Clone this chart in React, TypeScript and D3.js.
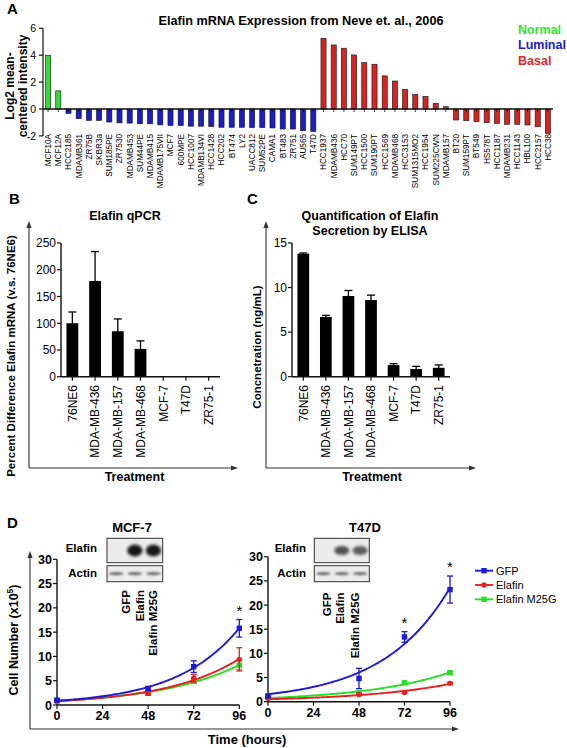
import React from 'react';
import * as d3 from 'd3';

const FONT = "'Liberation Sans', Arial, Helvetica, sans-serif";

// ---------- Panel A data ----------
const normalLines = ['MCF10A', 'MCF12A'];
const normalValues = [4.0, 1.35];
const luminalLines = ['HCC2185', 'MDAMB361', 'ZR75B', 'SKBR3a', 'SUM185PE', 'ZR7530', 'MDAMB453', 'SUM44PE', 'MDAMB415', 'MDAMB175VII', 'MCF7', '600MPE', 'HCC1007', 'MDAMB134VI', 'HCC1428', 'HCC202', 'BT474', 'LY2', 'UACC812', 'SUM52PE', 'CAMA1', 'BT483', 'ZR751', 'AU565', 'T47D'];
const luminalValues = [-0.33, -0.72, -0.85, -0.85, -0.97, -1.03, -1.05, -1.1, -1.1, -1.18, -1.23, -1.23, -1.28, -1.28, -1.31, -1.36, -1.36, -1.36, -1.38, -1.38, -1.41, -1.49, -1.49, -1.62, -1.67];
const basalLines = ['HCC1937', 'MDAMB436', 'HCC70', 'SUM149PT', 'HCC1500', 'SUM190PT', 'HCC1569', 'MDAMB468', 'HCC3153', 'SUM1315MO2', 'HCC1954', 'SUM225CWN', 'MDAMB157', 'BT20', 'SUM159PT', 'BT549', 'HS578T', 'HCC1187', 'MDAMB231', 'HCC1143', 'HBL100', 'HCC2157', 'HCC38'];
const basalValues = [5.26, 4.76, 4.52, 4.02, 3.45, 3.33, 2.46, 2.08, 1.46, 1.09, 0.94, 0.42, 0.17, -0.82, -0.87, -0.94, -1.02, -1.07, -1.14, -1.14, -1.19, -1.32, -1.81];
const groupNames = ['Normal', 'Luminal', 'Basal'];
const groupColors = ['#35dc35', '#1c1cc8', '#d92222'];
const legendColors = ['#2fe82f', '#1a1ad0', '#e02828'];
const aTicks = [-2, 0, 2, 4, 6];

// ---------- Panel B / C data ----------
const treatments = ['76NE6', 'MDA-MB-436', 'MDA-MB-157', 'MDA-MB-468', 'MCF-7', 'T47D', 'ZR75-1'];
const qpcrMean = [100, 179, 85, 52, 0, 0, 0];
const qpcrErr = [21, 55, 23, 15, 0, 0, 0];
const qpcrTicks = [0, 50, 100, 150, 200, 250];
const elisaMean = [13.8, 6.7, 9.05, 8.6, 1.3, 0.86, 1.0];
const elisaErr = [0.08, 0.18, 0.62, 0.55, 0.16, 0.3, 0.32];
const elisaTicks = [0, 5, 10, 15];

// ---------- Panel D data ----------
const hours = [0, 48, 72, 96];
const timeTicks = [0, 24, 48, 72, 96];
const cellTicks = [0, 5, 10, 15, 20, 25, 30];
const seriesNames = ['GFP', 'Elafin', 'Elafin M25G'];
const seriesColors = ['#1a1ad8', '#e82020', '#22e022'];
const mcf7GFP = [1.0, 3.4, 7.9, 15.8];
const mcf7GFPErr = [0.2, 0.4, 1.2, 1.8];
const mcf7Elafin = [0.8, 2.4, 5.5, 9.4];
const mcf7ElafinErr = [0.2, 0.4, 0.8, 2.4];
const mcf7M25G = [0.8, 2.5, 4.9, 8.2];
const mcf7M25GErr = [0.2, 0.3, 0.5, 0.9];
const mcf7Stars = [96];
const t47dGFP = [1.2, 4.8, 13.4, 23.2];
const t47dGFPErr = [0.2, 2.1, 1.1, 2.8];
const t47dElafin = [0.7, 1.5, 1.9, 3.8];
const t47dElafinErr = [0.1, 0.2, 0.2, 0.2];
const t47dM25G = [0.9, 1.8, 3.9, 6.0];
const t47dM25GErr = [0.1, 0.2, 0.3, 0.3];
const t47dStars = [72, 96];
const blotLanes = ['GFP', 'Elafin', 'Elafin M25G'];
const mcf7ElafinBand = [0, 1, 1];
const t47dElafinBand = [0, 0.8, 0.75];
const actinBand = [1, 1, 1];

function expFit(ts: number[], ys: number[]) {
  const lt = ys.map(Math.log);
  const mt = d3.mean(ts)!;
  const ml = d3.mean(lt)!;
  let sxy = 0, sxx = 0;
  ts.forEach((t, i) => { sxy += (t - mt) * (lt[i] - ml); sxx += (t - mt) ** 2; });
  let k = sxy / sxx;
  let a = Math.exp(ml - k * mt);
  for (let it = 0; it < 60; it++) {
    let j11 = 0, j12 = 0, j22 = 0, g1 = 0, g2 = 0;
    ts.forEach((t, i) => {
      const e = Math.exp(k * t);
      const r = ys[i] - a * e;
      const da = e, dk = a * t * e;
      j11 += da * da; j12 += da * dk; j22 += dk * dk; g1 += da * r; g2 += dk * r;
    });
    const det = j11 * j22 - j12 * j12;
    if (!det) break;
    const dA = (j22 * g1 - j12 * g2) / det;
    const dK = (j11 * g2 - j12 * g1) / det;
    a += dA; k += dK;
    if (Math.abs(dA) < 1e-10 && Math.abs(dK) < 1e-12) break;
  }
  return (t: number) => a * Math.exp(k * t);
}

const ArrowUp = ({ x, y }: { x: number; y: number }) => (
  <polygon points={`${x},${y} ${x - 2.6},${y + 7} ${x + 2.6},${y + 7}`} fill="#333" />
);
const ArrowRight = ({ x, y }: { x: number; y: number }) => (
  <polygon points={`${x},${y} ${x - 7},${y - 2.6} ${x - 7},${y + 2.6}`} fill="#333" />
);

function PanelA() {
  const names = [...normalLines, ...luminalLines, ...basalLines];
  const values = [...normalValues, ...luminalValues, ...basalValues];
  const groups = [...normalLines.map(() => 0), ...luminalLines.map(() => 1), ...basalLines.map(() => 2)];
  const x = d3.scaleBand<string>().domain(names).range([43, 553]).paddingInner(0.5).paddingOuter(0.25);
  const y = d3.scaleLinear().domain([-2, 6]).range([135.9, 28.3]);
  const y0 = y(0);
  return (
    <g>
      <text x={7} y={14} fontSize={15} fontWeight="bold">A</text>
      <text x={301} y={24.5} fontSize={12.7} fontWeight="bold" textAnchor="middle">Elafin mRNA Expression from Neve et. al., 2006</text>
      {groupNames.map((g, i) => (
        <text key={g} x={518} y={33.5 + i * 15.8} fontSize={12.5} fontWeight="bold" fill={legendColors[i]}>{g}</text>
      ))}
      <text transform={`translate(14,86) rotate(-90)`} fontSize={12} fontWeight="bold" textAnchor="middle">Log2 mean-</text>
      <text transform={`translate(27,86) rotate(-90)`} fontSize={12} fontWeight="bold" textAnchor="middle">centered intensity</text>
      <line x1={43} x2={43} y1={y(-2)} y2={y(6)} stroke="#111" strokeWidth={1.2} />
      {aTicks.map(t => (
        <g key={t}>
          <line x1={39} x2={43} y1={y(t)} y2={y(t)} stroke="#111" strokeWidth={1.2} />
          <text x={36} y={y(t)} dy="0.35em" fontSize={10.5} textAnchor="end">{t}</text>
        </g>
      ))}
      {names.map((n, i) => {
        const v = values[i];
        const top = Math.min(y(v), y0);
        return (
          <rect key={n} x={x(n)!} y={top} width={x.bandwidth()} height={Math.abs(y(v) - y0)}
            fill={groupColors[groups[i]]} stroke="#111" strokeWidth={0.6} />
        );
      })}
      <line x1={43} x2={553} y1={y0} y2={y0} stroke="#111" strokeWidth={1.3} />
      {names.map(n => (
        <line key={n} x1={x(n)! + x.bandwidth() / 2} x2={x(n)! + x.bandwidth() / 2} y1={y0} y2={y0 + 3} stroke="#111" strokeWidth={0.8} />
      ))}
      {names.map(n => (
        <text key={n} transform={`translate(${x(n)! + x.bandwidth() / 2},134) rotate(-90)`} fontSize={8.2} textAnchor="end" dy="0.35em">{n}</text>
      ))}
    </g>
  );
}

function BarPanel({ letter, letterX, title, titleX, frameX, frameRight, axisX, axisRight, max, ticks, mean, err, ylabel, ylabelX, ylabelY }: any) {
  const x = d3.scaleBand<string>().domain(treatments).range([axisX, axisRight]).paddingInner(0.48).paddingOuter(0.24);
  const y = d3.scaleLinear().domain([0, max]).range([376.7, 243]);
  const cx = (t: string) => x(t)! + x.bandwidth() / 2;
  return (
    <g>
      <text x={letterX} y={204} fontSize={15} fontWeight="bold">{letter}</text>
      {title.map((t: string, i: number) => (
        <text key={t} x={titleX} y={220 + i * 15} fontSize={12.5} fontWeight="bold" textAnchor="middle">{t}</text>
      ))}
      <line x1={frameX} x2={frameX} y1={468} y2={226} stroke="#333" strokeWidth={1.1} />
      <ArrowUp x={frameX} y={221} />
      <line x1={frameX} x2={frameRight - 4} y1={468} y2={468} stroke="#333" strokeWidth={1.1} />
      <ArrowRight x={frameRight} y={468} />
      <text transform={`translate(${ylabelX},${ylabelY}) rotate(-90)`} fontSize={11.5} fontWeight="bold" textAnchor="middle">{ylabel}</text>
      <text x={(frameX + frameRight) / 2 + 1} y={481} fontSize={12.5} fontWeight="bold" textAnchor="middle">Treatment</text>
      <line x1={axisX} x2={axisX} y1={y(0)} y2={y(max)} stroke="#111" strokeWidth={1.4} />
      {ticks.map((t: number) => (
        <g key={t}>
          <line x1={axisX - 4} x2={axisX} y1={y(t)} y2={y(t)} stroke="#111" strokeWidth={1.2} />
          <text x={axisX - 5} y={y(t)} dy="0.36em" fontSize={12} textAnchor="end">{t}</text>
        </g>
      ))}
      {treatments.map((t, i) => (
        <g key={t}>
          <rect x={x(t)!} y={y(mean[i])} width={x.bandwidth()} height={y(0) - y(mean[i])} fill="#000" />
          {err[i] > 0 && (
            <g stroke="#000" strokeWidth={1.3}>
              <line x1={cx(t)} x2={cx(t)} y1={y(mean[i] - err[i])} y2={y(mean[i] + err[i])} />
              <line x1={cx(t) - 4} x2={cx(t) + 4} y1={y(mean[i] + err[i])} y2={y(mean[i] + err[i])} />
            </g>
          )}
        </g>
      ))}
      <line x1={axisX} x2={axisRight} y1={y(0)} y2={y(0)} stroke="#111" strokeWidth={1.4} />
      {treatments.map(t => (
        <line key={t} x1={cx(t)} x2={cx(t)} y1={y(0)} y2={y(0) + 4} stroke="#111" strokeWidth={1.2} />
      ))}
      {treatments.map(t => (
        <text key={t} transform={`translate(${cx(t)},385) rotate(-90)`} fontSize={12} textAnchor="end" dy="0.36em">{t}</text>
      ))}
    </g>
  );
}

function Blot({ x0, x1, title, titleX, labelRight, laneLabelX, laneTop, elafin, elafinDark, elafinRy }: any) {
  const lanes = d3.scaleBand<string>().domain(blotLanes).range([x0, x1]);
  const lc = (l: string) => lanes(l)! + lanes.bandwidth() / 2;
  return (
    <g>
      <text x={titleX} y={531.5} fontSize={13} fontWeight="bold" textAnchor="middle">{title}</text>
      <text x={labelRight} y={552} fontSize={11.5} fontWeight="bold" textAnchor="end">Elafin</text>
      <text x={labelRight} y={577} fontSize={11.5} fontWeight="bold" textAnchor="end">Actin</text>
      <rect x={x0} y={538.3} width={x1 - x0} height={24.4} fill="#ececec" stroke="#333" strokeWidth={1} />
      <rect x={x0} y={565.7} width={x1 - x0} height={16} fill="#ececec" stroke="#333" strokeWidth={1} />
      {blotLanes.map((l, i) => elafin[i] > 0 && (
        <ellipse key={l} cx={lc(l)} cy={550.5} rx={7.6} ry={elafinRy} fill={elafinDark} opacity={elafin[i]} filter="url(#blur)" />
      ))}
      {blotLanes.map((l, i) => (
        <ellipse key={l} cx={lc(l)} cy={573.7} rx={7.2} ry={1.6} fill="#555" opacity={actinBand[i] * 0.85} filter="url(#blur1)" />
      ))}
      {blotLanes.map((l, i) => (
        <text key={l} transform={`translate(${laneLabelX[i]},${laneTop}) rotate(-90)`} fontSize={11.5} fontWeight="bold" textAnchor="end" dy="0.36em">{l}</text>
      ))}
    </g>
  );
}

function GrowthPanel({ xr, y0, y30, series, errs, stars, axisLabelRight }: any) {
  const x = d3.scaleLinear().domain([0, 96]).range(xr);
  const y = d3.scaleLinear().domain([0, 30]).range([y0, y30]);
  const order = [2, 1, 0];
  return (
    <g>
      <line x1={xr[0]} x2={xr[0]} y1={y(0)} y2={y(30)} stroke="#111" strokeWidth={1.4} />
      {cellTicks.map(t => (
        <g key={t}>
          <line x1={xr[0] - 4} x2={xr[0]} y1={y(t)} y2={y(t)} stroke="#111" strokeWidth={1.2} />
          <text x={axisLabelRight} y={y(t)} dy="0.36em" fontSize={12.5} fontWeight="bold" textAnchor="end">{t}</text>
        </g>
      ))}
      <line x1={xr[0]} x2={xr[1]} y1={y(0)} y2={y(0)} stroke="#111" strokeWidth={1.4} />
      {timeTicks.map(t => (
        <g key={t}>
          <line x1={x(t)} x2={x(t)} y1={y(0)} y2={y(0) + 4} stroke="#111" strokeWidth={1.2} />
          <text x={x(t)} y={y(0) + 15} fontSize={12.5} fontWeight="bold" textAnchor="middle">{t}</text>
        </g>
      ))}
      {order.map(si => {
        const f = expFit(hours, series[si]);
        const ts = d3.range(0, 96.01, 1);
        const path = d3.line<number>().x(t => x(t)).y(t => y(f(t))).curve(d3.curveBasis)(ts)!;
        const col = seriesColors[si];
        return (
          <g key={si}>
            <path d={path} fill="none" stroke={col} strokeWidth={1.9} />
            {hours.map((h, i) => {
              const m = series[si][i], e = errs[si][i];
              const px = x(h);
              return (
                <g key={h} stroke={col} strokeWidth={1.3}>
                  <line x1={px} x2={px} y1={y(m - e)} y2={y(m + e)} />
                  <line x1={px - 3} x2={px + 3} y1={y(m + e)} y2={y(m + e)} />
                  <line x1={px - 3} x2={px + 3} y1={y(m - e)} y2={y(m - e)} />
                  {si === 1
                    ? <circle cx={px} cy={y(m)} r={2.7} fill={col} stroke="none" />
                    : <rect x={px - 2.7} y={y(m) - 2.7} width={5.4} height={5.4} fill={col} stroke="none" />}
                </g>
              );
            })}
          </g>
        );
      })}
      {stars.map((s: number) => {
        const i = hours.indexOf(s);
        return <text key={s} x={x(s)} y={y(series[0][i] + errs[0][i]) - 4} fontSize={15} textAnchor="middle">*</text>;
      })}
    </g>
  );
}

export default function App() {
  return (
    <svg width={567} height={748} style={{ position: 'absolute', left: 0, top: 0, background: '#fff' }} fontFamily={FONT}>
      <defs>
        <filter id="blur" x="-50%" y="-50%" width="200%" height="200%"><feGaussianBlur stdDeviation={1.6} /></filter>
        <filter id="blur1" x="-50%" y="-100%" width="200%" height="300%"><feGaussianBlur stdDeviation={0.8} /></filter>
      </defs>
      <rect width={567} height={748} fill="#fff" />
      <PanelA />
      <BarPanel letter="B" letterX={9} title={['Elafin qPCR']} titleX={125} frameX={29} frameRight={238}
        axisX={61} axisRight={220} max={250} ticks={qpcrTicks} mean={qpcrMean} err={qpcrErr}
        ylabel="Percent Difference Elafin mRNA (v.s. 76NE6)" ylabelX={15} ylabelY={356} />
      <BarPanel letter="C" letterX={247} title={['Quantification of Elafin', 'Secretion by ELISA']} titleX={370} frameX={266} frameRight={476}
        axisX={292} axisRight={450} max={15} ticks={elisaTicks} mean={elisaMean} err={elisaErr}
        ylabel="Concnetration (ng/mL)" ylabelX={261} ylabelY={347} />

      {/* Panel D */}
      <text x={7} y={528} fontSize={15} fontWeight="bold">D</text>
      <line x1={30} x2={30} y1={729} y2={557} stroke="#333" strokeWidth={1.1} />
      <ArrowUp x={30} y={551} />
      <line x1={30} x2={454} y1={729} y2={729} stroke="#333" strokeWidth={1.1} />
      <ArrowRight x={459} y={729} />
      <text transform="translate(18,640) rotate(-90)" fontSize={12.5} fontWeight="bold" textAnchor="middle">
        Cell Number (x10<tspan dy={-5} fontSize={8.5}>5</tspan><tspan dy={5}>)</tspan>
      </text>
      <text x={247} y={744} fontSize={13} fontWeight="bold" textAnchor="middle">Time (hours)</text>
      <Blot x0={107} x1={162.7} title="MCF-7" titleX={132} labelRight={97} laneLabelX={[126, 140, 153]} laneTop={590}
        elafin={mcf7ElafinBand} elafinDark="#151515" elafinRy={6} />
      <Blot x0={314.3} x1={369.3} title="T47D" titleX={365} labelRight={306} laneLabelX={[327, 340, 355]} laneTop={592.5}
        elafin={t47dElafinBand} elafinDark="#2a2a2a" elafinRy={4.5} />
      <GrowthPanel xr={[57, 239.3]} y0={705} y30={559.3}
        series={[mcf7GFP, mcf7Elafin, mcf7M25G]} errs={[mcf7GFPErr, mcf7ElafinErr, mcf7M25GErr]} stars={mcf7Stars} axisLabelRight={52} />
      <GrowthPanel xr={[268, 450]} y0={701.7} y30={556.7}
        series={[t47dGFP, t47dElafin, t47dM25G]} errs={[t47dGFPErr, t47dElafinErr, t47dM25GErr]} stars={t47dStars} axisLabelRight={263} />
      {seriesNames.map((n, i) => (
        <g key={n}>
          <line x1={475} x2={493} y1={570.7 + i * 14.3} y2={570.7 + i * 14.3} stroke={seriesColors[i]} strokeWidth={1.9} />
          {i === 1
            ? <circle cx={484} cy={570.7 + i * 14.3} r={2.7} fill={seriesColors[i]} />
            : <rect x={481.3} y={568 + i * 14.3} width={5.4} height={5.4} fill={seriesColors[i]} />}
          <text x={496} y={570.7 + i * 14.3} dy="0.36em" fontSize={11}>{n}</text>
        </g>
      ))}
    </svg>
  );
}
